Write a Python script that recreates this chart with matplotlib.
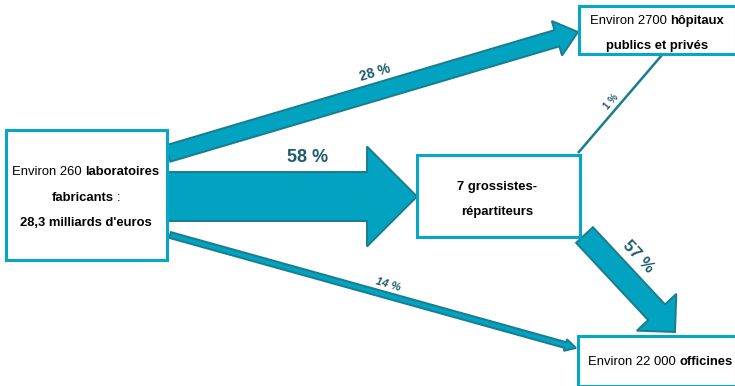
import matplotlib
matplotlib.use('Agg')
import matplotlib.pyplot as plt
from matplotlib.patches import FancyArrow, Rectangle
from matplotlib import font_manager as fm

# --- data ---
node_names = ['labo', 'hopitaux', 'grossistes', 'officines']
# each node: list of lines, each line a list of (text, bold?)
labo_lines = [[('Environ 260', False), ('laboratoires', True)],
              [('fabricants', True), (':', False)],
              [("28,3 milliards d'euros", True)]]
hopitaux_lines = [[('Environ 2700', False), ('hôpitaux', True)],
                  [('publics et privés', True)]]
grossistes_lines = [[('7 grossistes-', True)],
                    [('répartiteurs', True)]]
officines_lines = [[('Environ 22 000', False), ('officines', True)]]

flow_src = ['labo', 'labo', 'grossistes', 'labo', 'grossistes']
flow_dst = ['hopitaux', 'grossistes', 'hopitaux', 'officines', 'officines']
flow_pct = [28, 58, 1, 14, 57]

# --- layout (pixel space) ---
boxes = {'labo': (6, 130, 167, 260), 'hopitaux': (579, 6, 736, 54),
         'grossistes': (417, 155, 580, 237), 'officines': (578, 336, 736, 386)}
box_text = {'labo': (86, [175, 201, 226]), 'hopitaux': (657, [24, 49]),
            'grossistes': (497, [190, 215]), 'officines': (660, [365])}
tails = [(168, 153.5), (168, 196.5), (578, 153), (170, 235), (584.5, 235)]
tips = [(578, 32), (417, 196.5), (662, 55), (576, 348), (675, 332)]
shaft_w = [17, 49, 2.5, 6, 23]
head_w = [36, 100, 0, 12, 54]
head_l = [22, 50, 0, 11, 27]
lab_pos = [(375, 73), (308, 158), (611, 102), (388, 285), (638, 257)]
lab_rot = [16.5, 0, 49, -16, -47]
lab_size = [10, 13, 7, 8, 12]
lab_style = ['normal', 'normal', 'normal', 'italic', 'normal']

box_col = '#06A6C5'
arrow_fc = '#02A3C0'
arrow_ec = '#1A7C8F'
pct_col = '#1D5C6B'

try:
    fm.findfont('Liberation Sans Narrow', fallback_to_default=False)
    fam, fs = 'Liberation Sans Narrow', 10.2
except Exception:
    fam, fs = 'Liberation Sans', 9.4

fig = plt.figure(figsize=(7.35, 3.86), dpi=100)
ax = fig.add_axes([0, 0, 1, 1])
ax.set_xlim(0, 735)
ax.set_ylim(386, 0)
ax.axis('off')
r = fig.canvas.get_renderer()

# arrows
for i in range(len(flow_pct)):
    (x0, y0), (x1, y1) = tails[i], tips[i]
    if head_w[i] == 0:
        ax.plot([x0, x1], [y0, y1], color=arrow_ec, lw=shaft_w[i] * 0.72,
                solid_capstyle='butt', zorder=2)
    else:
        ax.add_patch(FancyArrow(x0, y0, x1 - x0, y1 - y0, width=shaft_w[i],
                                head_width=head_w[i], head_length=head_l[i],
                                length_includes_head=True, fc=arrow_fc,
                                ec=arrow_ec, lw=1.4, zorder=2))
    ax.text(lab_pos[i][0], lab_pos[i][1], f'{flow_pct[i]} %', color=pct_col,
            fontsize=lab_size[i], fontweight='bold', style=lab_style[i],
            family=fam, rotation=lab_rot[i], rotation_mode='anchor',
            ha='center', va='center', zorder=4)

# boxes
for n in node_names:
    x0, y0, x1, y1 = boxes[n]
    ax.add_patch(Rectangle((x0, y0), x1 - x0, y1 - y0, fc='white', ec=box_col,
                           lw=2.2, zorder=3))

space = fs * 100 / 72 * 0.28


def draw_line(cx, y, parts):
    items = []
    for s, bold in parts:
        t = ax.text(0, y, s, fontsize=fs, fontweight='bold' if bold else 'normal',
                    family=fam, ha='left', va='baseline', color='black', zorder=5)
        items.append((t, t.get_window_extent(renderer=r).width))
    total = sum(w for _, w in items) + space * (len(items) - 1)
    x = cx - total / 2
    for t, w in items:
        t.set_x(x)
        x += w + space


all_lines = {'labo': labo_lines, 'hopitaux': hopitaux_lines,
             'grossistes': grossistes_lines, 'officines': officines_lines}
for n in node_names:
    cx, ys = box_text[n]
    for parts, y in zip(all_lines[n], ys):
        draw_line(cx, y, parts)

fig.savefig('out.png', dpi=100)
